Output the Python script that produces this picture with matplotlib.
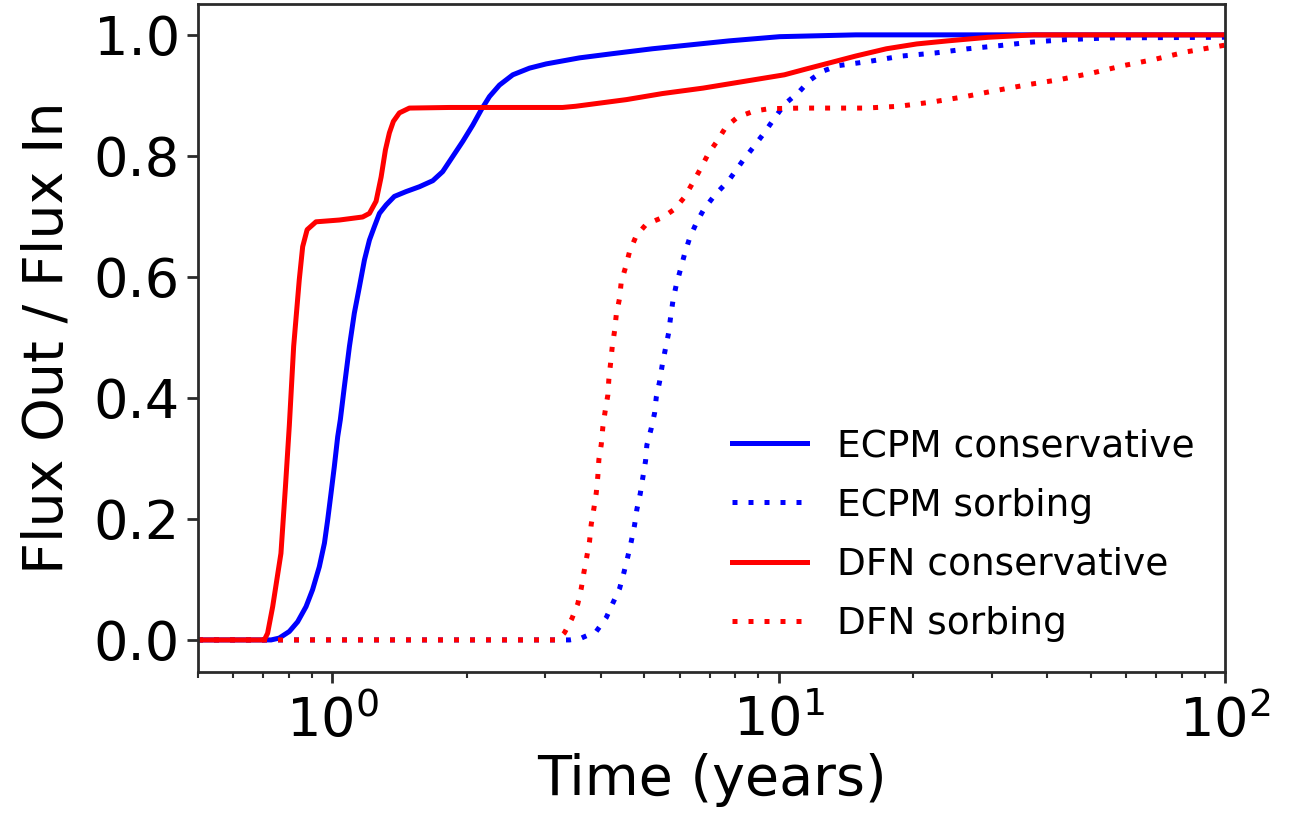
import matplotlib
matplotlib.use("Agg")
import matplotlib.pyplot as plt

# ECPM conservative (blue solid)
ecpm_cons_t = [0.5, 0.729, 0.760, 0.801, 0.836, 0.873, 0.903, 0.935, 0.960, 0.976, 0.993,
               1.010, 1.028, 1.042, 1.064, 1.092, 1.120, 1.150, 1.180, 1.211, 1.242, 1.275,
               1.320, 1.377, 1.463, 1.567, 1.679, 1.767, 1.861, 1.960, 2.064, 2.155, 2.249,
               2.368, 2.537, 2.765, 3.014, 3.58, 4.25, 5.21, 7.73, 10.05, 14.88, 100.0]
ecpm_cons_v = [0.0, 0.0, 0.003, 0.014, 0.030, 0.055, 0.083, 0.121, 0.160, 0.198, 0.242,
               0.286, 0.336, 0.364, 0.419, 0.485, 0.540, 0.584, 0.628, 0.661, 0.683, 0.705,
               0.719, 0.733, 0.741, 0.749, 0.759, 0.774, 0.799, 0.824, 0.851, 0.876, 0.898,
               0.917, 0.934, 0.945, 0.952, 0.962, 0.969, 0.977, 0.990, 0.997, 1.0, 1.0]

# ECPM sorbing (blue dotted)
ecpm_sorb_t = [0.5, 3.40, 3.611, 3.902, 4.109, 4.251, 4.401, 4.499, 4.593, 4.675, 4.755,
               4.812, 4.897, 4.963, 5.032, 5.066, 5.183, 5.272, 5.318, 5.410, 5.486, 5.571,
               5.667, 5.725, 5.794, 5.896, 6.029, 6.155, 6.316, 6.538, 6.801, 7.19, 7.74,
               8.31, 8.79, 9.28, 9.78, 10.30, 11.15, 11.74, 12.55, 13.56, 15.90, 18.87,
               22.38, 26.53, 31.06, 36.83, 43.70, 55.23, 100.0]
ecpm_sorb_v = [0.0, 0.0, 0.003, 0.014, 0.037, 0.061, 0.085, 0.111, 0.138, 0.163, 0.190,
               0.216, 0.242, 0.269, 0.296, 0.322, 0.350, 0.375, 0.401, 0.427, 0.455, 0.480,
               0.507, 0.533, 0.560, 0.587, 0.613, 0.638, 0.664, 0.689, 0.712, 0.735, 0.760,
               0.792, 0.815, 0.838, 0.862, 0.885, 0.907, 0.925, 0.940, 0.949, 0.956, 0.965,
               0.970, 0.977, 0.982, 0.988, 0.992, 0.995, 0.996]

# DFN conservative (red solid)
dfn_cons_t = [0.5, 0.704, 0.716, 0.735, 0.767, 0.785, 0.801, 0.819, 0.843, 0.858, 0.878,
              0.919, 1.037, 1.169, 1.211, 1.253, 1.286, 1.315, 1.342, 1.370, 1.413, 1.488,
              1.829, 3.28, 3.51, 4.56, 5.49, 6.77, 8.35, 10.30, 11.44, 13.05, 14.88, 17.43,
              20.39, 23.88, 29.47, 37.3, 100.0]
dfn_cons_v = [0.0, 0.0, 0.011, 0.055, 0.143, 0.253, 0.355, 0.485, 0.595, 0.650, 0.678,
              0.691, 0.694, 0.699, 0.705, 0.725, 0.765, 0.810, 0.838, 0.857, 0.871, 0.879,
              0.880, 0.880, 0.882, 0.893, 0.903, 0.912, 0.923, 0.934, 0.943, 0.954, 0.965,
              0.977, 0.985, 0.990, 0.996, 1.0, 1.0]

# DFN sorbing (red dotted)
dfn_sorb_t = [0.5, 3.20, 3.313, 3.440, 3.548, 3.611, 3.660, 3.717, 3.769, 3.802, 3.854,
              3.902, 3.934, 3.955, 4.004, 4.037, 4.087, 4.143, 4.164, 4.201, 4.238, 4.289,
              4.326, 4.401, 4.439, 4.539, 4.634, 4.796, 5.050, 5.486, 5.846, 6.155, 6.425,
              6.686, 6.950, 7.289, 7.619, 8.091, 8.804, 9.526, 11.29, 15.67, 18.61, 22.07,
              26.18, 30.66, 36.36, 42.56, 50.46, 59.07, 70.01, 82.05, 100.0]
dfn_sorb_v = [0.0, 0.0, 0.012, 0.035, 0.060, 0.085, 0.111, 0.138, 0.163, 0.191, 0.217,
              0.243, 0.271, 0.298, 0.323, 0.352, 0.379, 0.405, 0.431, 0.457, 0.485, 0.511,
              0.537, 0.565, 0.592, 0.616, 0.642, 0.668, 0.687, 0.698, 0.712, 0.732, 0.756,
              0.779, 0.803, 0.825, 0.848, 0.864, 0.874, 0.878, 0.879, 0.879, 0.882, 0.889,
              0.898, 0.908, 0.918, 0.926, 0.937, 0.949, 0.960, 0.972, 0.983]

labels = ["ECPM conservative", "ECPM sorbing", "DFN conservative", "DFN sorbing"]
yticks = [0.0, 0.2, 0.4, 0.6, 0.8, 1.0]

plt.rcParams['font.family'] = ['DejaVu Sans']
fig = plt.figure(figsize=(12.97, 8.23), dpi=100)
ax = fig.add_axes([198/1297, 1 - 672/823, (1225 - 198)/1297, (672 - 4)/823])

lw = 3.6
dots = (1, 2.2)
ax.plot(ecpm_cons_t, ecpm_cons_v, color='blue', lw=lw, label=labels[0])
ax.plot(ecpm_sorb_t, ecpm_sorb_v, color='blue', lw=lw, linestyle=(0, dots), label=labels[1])
ax.plot(dfn_cons_t, dfn_cons_v, color='red', lw=lw, label=labels[2])
ax.plot(dfn_sorb_t, dfn_sorb_v, color='red', lw=lw, linestyle=(0, dots), label=labels[3])

ax.set_xscale('log')
ax.set_xlim(0.5, 100)
ax.set_ylim(-0.053, 1.051)
ax.set_yticks(yticks)
ax.set_yticklabels([f"{v:.1f}" for v in yticks])

edge = '#2b2b2b'
for s in ax.spines.values():
    s.set_linewidth(2.0)
    s.set_color(edge)
ax.tick_params(axis='both', which='major', length=8, width=2.0, color=edge,
               labelsize=39, pad=5)
ax.tick_params(axis='x', which='major', pad=8)
ax.tick_params(axis='x', which='minor', length=4.5, width=1.5, color=edge)

ax.set_xlabel("Time (years)", fontsize=40, labelpad=4)
ax.set_ylabel("Flux Out / Flux In", fontsize=40, labelpad=14)

ax.legend(loc='lower right', fontsize=27, frameon=False, labelspacing=0.62,
          borderaxespad=0.4)

fig.savefig("out.png", dpi=100)
